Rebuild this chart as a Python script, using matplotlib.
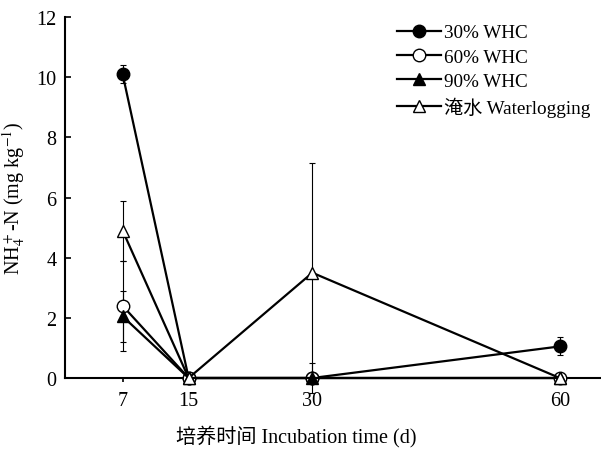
import numpy as np
import matplotlib.pyplot as plt

plt.rcParams['font.family'] = ['Liberation Serif', 'Noto Sans CJK SC']
plt.rcParams['mathtext.fontset'] = 'stix'

days = [7, 15, 30, 60]
whc30 = [10.1, 0, 0, 1.05]
whc30_err = [0.3, 0, 0, 0.3]
whc60 = [2.4, 0, 0, 0]
whc60_err = [1.5, 0, 0, 0]
whc90 = [2.05, 0, 0, 0]
whc90_err = [0.85, 0, 0.5, 0]
water = [4.9, 0, 3.5, 0]
water_err = [1.0, 0, 3.65, 0]

fig = plt.figure(figsize=(6.01, 4.52), dpi=100)
ax = fig.add_axes([0.108, 0.1615, 0.892, 0.7985])

series = [
    (whc30, whc30_err, 'o', 'black', '30% WHC'),
    (whc60, whc60_err, 'o', 'white', '60% WHC'),
    (whc90, whc90_err, '^', 'black', '90% WHC'),
    (water, water_err, '^', 'white', '淹水 Waterlogging'),
]
handles = []
for vals, err, mk, fc, lab in series:
    cont = ax.errorbar(days, vals, yerr=err, fmt='-', marker=mk, color='black',
                       mfc=fc, mec='black', ms=9, lw=1.6, elinewidth=0.8,
                       capsize=2.5, capthick=0.8, clip_on=False, zorder=3)
    line = cont[0]
    line.set_label(lab)
    handles.append(line)

ax.set_xlim(0, 65)
ax.set_ylim(0, 12)
ax.set_xticks(days)
ax.set_yticks(range(0, 13, 2))
ax.spines['top'].set_visible(False)
ax.spines['right'].set_visible(False)
ax.spines['left'].set_linewidth(1.5)
ax.spines['bottom'].set_linewidth(1.5)
ax.tick_params(axis='y', direction='in', length=4, width=1.2, labelsize=14.5, pad=6)
ax.tick_params(axis='x', direction='out', length=3, width=1.2, labelsize=14.5, pad=6)

xl = ax.set_xlabel('培养时间 Incubation time (d)', fontsize=14.5)
xl.set_va('center')
ax.xaxis.set_label_coords(0.431, -0.16)
ax.set_ylabel(r'NH$_4^+$-N (mg kg$^{-1}$)', fontsize=14.5, labelpad=6)

fig.legend(handles, [h.get_label() for h in handles], loc='upper left',
           bbox_to_anchor=(0.648, 0.962), frameon=False, fontsize=13.8,
           handlelength=2.3, handletextpad=0.15, labelspacing=0.36,
           borderaxespad=0)

fig.savefig('out.png', dpi=100)
